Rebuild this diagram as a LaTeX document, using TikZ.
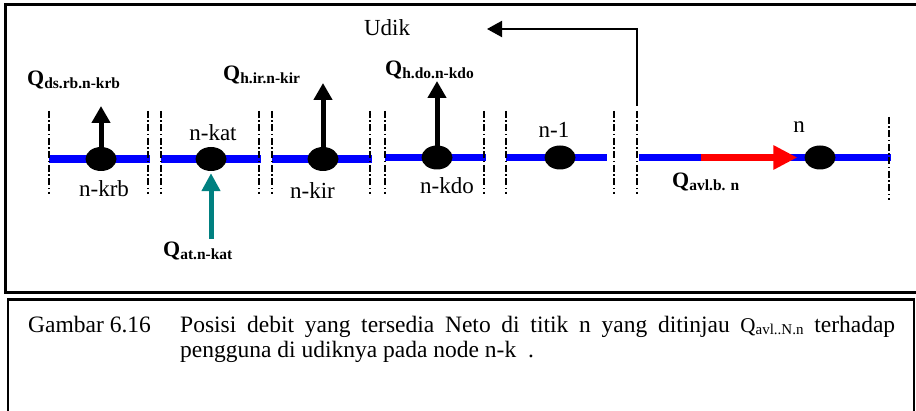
\documentclass[tikz,border=0pt]{standalone}
\usepackage{fontspec}
\setmainfont{Liberation Serif}
\usetikzlibrary{arrows.meta,shapes.geometric}
\definecolor{tealarrow}{RGB}{0,128,128}
\definecolor{rivblue}{RGB}{0,0,255}
\newcommand\lblfont{\fontsize{23}{27}\selectfont}
\newcommand\capfont{\fontsize{23.5}{28}\selectfont}
\newcommand\Qlab[1]{{\bfseries\fontsize{22}{26}\selectfont Q\fontsize{15.5}{18}\selectfont\raisebox{-3pt}{#1}}}
\newcommand\Qcap[1]{{\fontsize{21}{24}\selectfont Q\fontsize{15}{18}\selectfont\raisebox{-2pt}{#1}}}
\begin{document}
\begin{tikzpicture}[x=1pt,y=-1pt,
  river/.style={draw=rivblue,line width=7.5pt},
  sep/.style={draw=black,line width=1.4pt,dash pattern=on 7pt off 2.5pt on 1.5pt off 2.5pt},
  nodedot/.style={ellipse,fill=black,minimum width=31pt,minimum height=24pt,inner sep=0pt},
  withdraw/.style={draw=black,line width=5pt,-{Triangle[width=18pt,length=17pt]}},
  inflow/.style={draw=tealarrow,line width=5pt,-{Triangle[width=18pt,length=18pt]}},
  flow/.style={draw=red,line width=7.5pt,-{Triangle[width=23pt,length=24pt]}},
  udikarrow/.style={draw=black,line width=2pt,-{Triangle[width=16pt,length=15pt]}},
  lbl/.style={inner sep=0pt,font=\lblfont,anchor=base},
  qlbl/.style={inner sep=0pt,anchor=base west},
  captxt/.style={inner sep=0pt,anchor=base west,font=\capfont},
]
\useasboundingbox (0,0) rectangle (916,411);
% frames
\draw[line width=3pt] (5,4.7) rectangle (922,292.3);
\draw[line width=2.2pt] (8,299.5) rectangle (914.3,425);

% river segments
\coordinate (a1) at (49,159);   \coordinate (b1) at (150,159);
\coordinate (a2) at (161,159);  \coordinate (b2) at (261,159);
\coordinate (a3) at (272,159);  \coordinate (b3) at (372,159);
\coordinate (a4) at (385,157.5);\coordinate (b4) at (486,157.5);
\coordinate (a5) at (506,157.5);\coordinate (b5) at (607,157.5);
\coordinate (a6) at (639,157.5);\coordinate (b6) at (891,157.5);
\foreach \i in {1,...,6} {\draw[river] (a\i) -- (b\i);}

% separators
\foreach \x in {49,148,161,259,272,370,385,484,506,614,637} {\draw[sep] (\x,111) -- (\x,194);}
\draw[sep] (889,117) -- (889,200);

% red flow arrow start
\coordinate (r0) at (701,157.5);

% nodes
\node[nodedot] (k1) at (101,159) {};
\node[nodedot] (k2) at (211,159) {};
\node[nodedot] (k3) at (323,159) {};
\node[nodedot] (k4) at (437,157.5) {};
\node[nodedot] (k5) at (560,157.5) {};
\node[nodedot] (k6) at (820,157.5) {};

\draw[flow,shorten >=7pt] (r0) -- (k6.west);

% withdrawals
\coordinate (t1) at (101,106);
\coordinate (t3) at (323,83);
\coordinate (t4) at (437,81);
\draw[withdraw] (k1.center) -- (t1);
\draw[withdraw] (k3.center) -- (t3);
\draw[withdraw] (k4.center) -- (t4);
% inflow
\coordinate (s2) at (211,239);
\draw[inflow,shorten >=2pt] (s2) -- (k2.south);

% upstream arrow
\coordinate (u0) at (637,106);
\coordinate (u2) at (487,29);
\draw[udikarrow] (u0) |- (u2);
\node[lbl] (udik) at (387,36) {Udik};

% node labels
\node[lbl] (l1) at (104,197) {n-krb};
\node[lbl] (l2) at (213,141) {n-kat};
\node[lbl] (l3) at (312.5,199) {n-kir};
\node[lbl] (l4) at (447,194) {n-kdo};
\node[lbl] (l5) at (554,138) {n-1};
\node[lbl] (l6) at (799,133) {n};

% flow labels
\node[qlbl] (q1) at (27,86) {\Qlab{ds.rb.n-krb}};
\node[qlbl] (q3) at (223,81) {\Qlab{h.ir.n-kir}};
\node[qlbl] (q4) at (385,76) {\Qlab{h.do.n-kdo}};
\node[qlbl] (q2) at (163,257) {\Qlab{at.n-kat}};
\node[qlbl] (q6) at (672,188) {\Qlab{avl.b. n}};

% caption
\node[captxt] (c0) at (28,333) {Gambar 6.16};
\node[captxt] (c1) at (180,333) {\makebox[715pt][s]{Posisi debit yang tersedia Neto di titik n yang ditinjau \Qcap{avl..N.n} terhadap}};
\node[captxt] (c2) at (180,358) {pengguna di udiknya pada node n-k\ \ .};
\end{tikzpicture}
\end{document}
